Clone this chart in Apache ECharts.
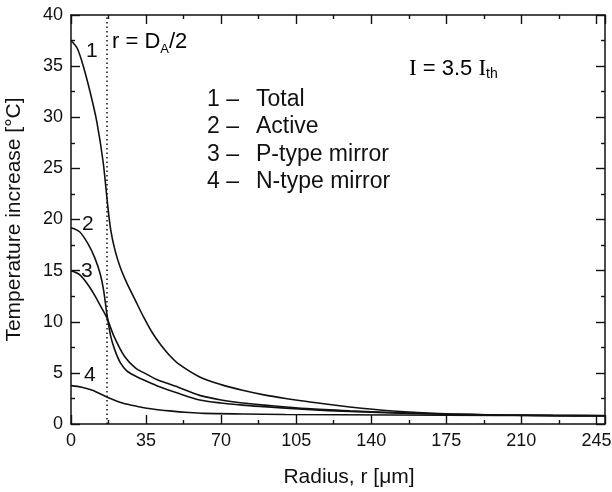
<!DOCTYPE html>
<html>
<head>
<meta charset="utf-8">
<script src="https://cdn.jsdelivr.net/npm/echarts@6/dist/echarts.min.js"></script>
<style>
html, body { margin: 0; padding: 0; background: #fff; }
#main { width: 612px; height: 492px; }
</style>
</head>
<body>
<div id="main"></div>
<script>
// radius (um) and temperature increase (C)
var totalR = [0, 3, 6, 9, 12, 15, 17, 18.5, 20.5, 23, 26, 30, 34, 38, 42, 46, 50, 60, 70, 80, 90, 100, 110, 130, 150, 175, 200, 225, 249];
var totalT = [37.5, 36.7, 34.8, 32.4, 29.6, 25.6, 21.6, 19.0, 17.0, 15.3, 13.8, 12.1, 10.4, 8.9, 7.7, 6.7, 5.9, 4.6, 3.85, 3.3, 2.85, 2.5, 2.2, 1.66, 1.27, 1.0, 0.88, 0.82, 0.8];

var activeR = [0, 4, 8, 11, 13.6, 15.2, 16.7, 18.5, 20.5, 23, 26, 30, 35, 40, 50, 60, 70, 80, 90, 110, 130, 150, 175, 200, 225, 249];
var activeT = [19.2, 18.8, 17.6, 16.3, 14.7, 13.1, 10.8, 8.6, 7.2, 6.0, 5.2, 4.7, 4.2, 3.75, 3.0, 2.35, 2.05, 1.85, 1.7, 1.42, 1.22, 1.08, 0.96, 0.88, 0.83, 0.8];

var pMirrorR = [0, 4, 8, 11, 13.6, 16.7, 20, 25, 30, 35, 40, 50, 60, 70, 80, 90, 110, 130, 150, 175, 200, 225, 249];
var pMirrorT = [15.0, 14.6, 13.6, 12.6, 11.6, 10.4, 8.6, 6.6, 5.5, 4.9, 4.35, 3.6, 2.8, 2.35, 2.05, 1.85, 1.5, 1.28, 1.12, 0.98, 0.88, 0.83, 0.8];

var nMirrorR = [0, 5, 10, 16.7, 24, 31, 38, 46, 55, 62, 80, 100, 150, 200, 249];
var nMirrorT = [3.75, 3.6, 3.3, 2.65, 2.05, 1.72, 1.47, 1.28, 1.12, 1.04, 0.98, 0.93, 0.88, 0.84, 0.82];

var activeRadius = 16.7; // r = D_A/2
var xTicks = [0, 35, 70, 105, 140, 175, 210, 245];
var legendNums = ['1 \u2013', '2 \u2013', '3 \u2013', '4 \u2013'];
var legendNames = ['Total', 'Active', 'P-type mirror', 'N-type mirror'];

function pairs(xs, ys) {
	var out = [];
	for (var i = 0; i < xs.length; i++) {
		out.push([xs[i], ys[i]]);
	}
	return out;
}

var sans = '"Liberation Sans", Arial, sans-serif';
var serif = '"Liberation Serif", "Times New Roman", serif';
var ink = '#111';

// ticks point into the plot, like the original frame
function ticks() {
	return { show: true, inside: true, length: 9, lineStyle: { color: ink, width: 1.4 } };
}
function minor() {
	return { show: true, splitNumber: 2, length: 4, lineStyle: { color: ink, width: 1.4 } };
}
function axisLn() {
	return { show: true, onZero: false, lineStyle: { color: ink, width: 1.5 } };
}

var chart = echarts.init(document.getElementById('main'));

function curve(name, xs, ys) {
	return {
		name: name,
		type: 'line',
		data: pairs(xs, ys),
		smooth: 0.3,
		showSymbol: false,
		symbol: 'none',
		lineStyle: { color: ink, width: 1.6 },
		z: 3
	};
}

var series = [
	curve('Total', totalR, totalT),
	curve('Active', activeR, activeT),
	curve('P-type mirror', pMirrorR, pMirrorT),
	curve('N-type mirror', nMirrorR, nMirrorT)
];
series[0].markLine = {
	symbol: 'none',
	silent: true,
	label: { show: false },
	lineStyle: { color: ink, width: 1.5, type: [1.5, 3] },
	data: [{ xAxis: activeRadius }]
};

var graphics = [];
for (var i = 0; i < legendNums.length; i++) {
	graphics.push({
		type: 'text', left: 207, top: 88 + i * 27.5,
		style: { text: legendNums[i], font: '23px ' + sans, fill: ink }
	});
	graphics.push({
		type: 'text', left: 256, top: 88 + i * 27.5,
		style: { text: legendNames[i], font: '23px ' + sans, fill: ink }
	});
}
// curve numbers
var curveLabels = [['1', 86, 41], ['2', 82, 214], ['3', 81, 261], ['4', 84, 365]];
curveLabels.forEach(function (c) {
	graphics.push({
		type: 'text', left: c[1], top: c[2],
		style: { text: c[0], font: '21px ' + sans, fill: ink }
	});
});
graphics.push({
	type: 'text', left: 112, top: 31,
	style: {
		text: '{a|r = D}{s|A}{a|/2}',
		rich: {
			a: { fontSize: 22, fontFamily: sans, color: ink, lineHeight: 28 },
			s: { fontSize: 13, fontFamily: sans, color: ink, lineHeight: 14, verticalAlign: 'bottom' }
		}
	}
});
graphics.push({
	type: 'text', left: 409, top: 57,
	style: {
		text: '{i|I}{a| = 3.5 }{i|I}{s|th}',
		rich: {
			i: { fontSize: 23, fontFamily: serif, color: ink, lineHeight: 26 },
			a: { fontSize: 22, fontFamily: sans, color: ink, lineHeight: 26 },
			s: { fontSize: 14, fontFamily: sans, color: ink, lineHeight: 14, verticalAlign: 'bottom' }
		}
	}
});

var option = {
	backgroundColor: '#fff',
	animation: false,
	grid: { left: 71, right: 7, top: 15, bottom: 68, containLabel: false, outerBoundsMode: 'none' },
	xAxis: [{
		type: 'value', position: 'bottom', min: 0, max: 249, interval: 35,
		name: 'Radius, r [\u03bcm]', nameLocation: 'middle', nameGap: 43,
		nameTextStyle: { fontFamily: sans, fontSize: 21, color: ink, padding: [0, 0, 0, 22] },
		axisLine: axisLn(), axisTick: ticks(), minorTick: minor(),
		axisLabel: {
			margin: 8, fontFamily: sans, fontSize: 18, color: ink,
			formatter: function (v) { return xTicks.indexOf(v) >= 0 ? String(v) : ''; }
		},
		splitLine: { show: false }
	}, {
		type: 'value', position: 'top', min: 0, max: 249, interval: 35,
		axisLine: axisLn(), axisTick: ticks(), minorTick: minor(),
		axisLabel: { show: false }, splitLine: { show: false }
	}],
	yAxis: [{
		type: 'value', position: 'left', min: 0, max: 40, interval: 5,
		name: 'Temperature increase [\u00b0C]', nameLocation: 'middle', nameGap: 46,
		nameTextStyle: { fontFamily: sans, fontSize: 21, color: ink },
		axisLine: axisLn(), axisTick: ticks(), minorTick: minor(),
		axisLabel: { margin: 8, fontFamily: sans, fontSize: 18, color: ink },
		splitLine: { show: false }
	}, {
		type: 'value', position: 'right', min: 0, max: 40, interval: 5,
		axisLine: axisLn(), axisTick: ticks(), minorTick: minor(),
		axisLabel: { show: false }, splitLine: { show: false }
	}],
	series: series,
	graphic: graphics
};

chart.setOption(option);
</script>
</body>
</html>
